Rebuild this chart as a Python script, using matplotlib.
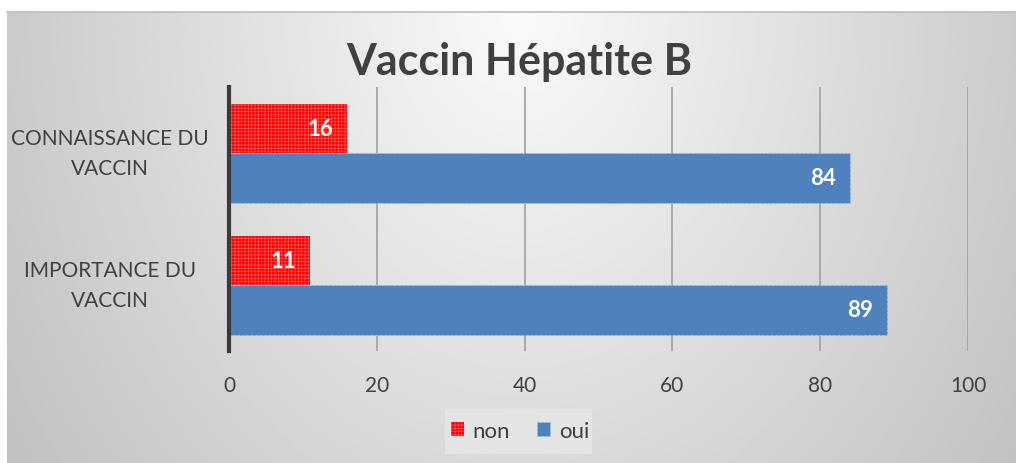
import matplotlib
matplotlib.use("Agg")
import matplotlib.pyplot as plt
import numpy as np
from matplotlib.patches import Rectangle

categories = ["CONNAISSANCE DU\nVACCIN", "IMPORTANCE DU\nVACCIN"]
non_values = [16, 11]
oui_values = [84, 89]
series_names = ["non", "oui"]
title = "Vaccin Hépatite B"

plt.rcParams['font.family'] = ['Lato', 'DejaVu Sans']
plt.rcParams['hatch.linewidth'] = 0.5

W, H = 1016, 464
fig = plt.figure(figsize=(W / 100, H / 100), dpi=100)
fig.patch.set_facecolor("white")

# gradient background of the chart area
bg = fig.add_axes([7 / W, 0, 1 - 7 / W, (H - 13) / H], zorder=-2)
xs = np.linspace(7, W, 400)
ys = np.linspace(13, H, 200)
gx, gy = np.meshgrid(xs, ys)
d = np.sqrt(((gx - 520) / 560) ** 2 + ((gy - 13) / 720) ** 2)
shade = np.clip(250 - 52 * d, 192, 255) / 255
bg.imshow(shade, cmap="gray", vmin=0, vmax=1, aspect="auto",
          extent=[0, 1, 0, 1], interpolation="bilinear")
bg.set_xlim(0, 1)
bg.set_ylim(0, 1)
bg.axis("off")
fig.add_artist(plt.Line2D([7 / W, 1], [(H - 13) / H, (H - 13) / H],
                          color="#bdbdbd", lw=1.2))

ax = fig.add_axes([229 / W, (H - 352) / H, (968 - 229) / W, (352 - 88) / H])
ax.patch.set_alpha(0)

y = np.arange(len(categories))
h = 0.375
red = ax.barh(y - h / 2, non_values, height=h, color="#ff0000",
              edgecolor="#ff5a5a", hatch="+++++", lw=0, zorder=3)
blue = ax.barh(y + h / 2, oui_values, height=h, color="#4f81bd",
               edgecolor="#a9c0dd", lw=0.8, linestyle=(0, (2, 2)), zorder=3)

for bars, vals in ((red, non_values), (blue, oui_values)):
    for b, v in zip(bars, vals):
        ax.text(b.get_width() - 1.9, b.get_y() + b.get_height() / 2, str(v),
                ha="right", va="center", color="white", fontsize=16,
                fontweight="bold", zorder=4)

ax.set_xlim(0, 100)
ax.set_ylim(1.5, -0.5)
ax.set_xticks(range(0, 101, 20))
ax.set_yticks([])
ax.tick_params(axis="x", length=0, colors="#404040", labelsize=15, pad=17)
for yi, cat in zip(y, categories):
    ax.text(-0.161, yi, cat, transform=ax.get_yaxis_transform(),
            ha="center", va="center", fontsize=15, color="#404040",
            linespacing=1.6)
ax.grid(axis="x", color="#a0a0a0", lw=1.2, zorder=0)
for s in ("top", "right", "bottom"):
    ax.spines[s].set_visible(False)
ax.spines["left"].set_color("#3a3a3a")
ax.spines["left"].set_linewidth(3)
ax.spines["left"].set_zorder(5)

fig.text(0.511, (H - 62) / H, title, ha="center", va="center",
         fontsize=31, fontweight="bold", color="#404040")

# legend
lbox = Rectangle((445 / W, (H - 455) / H), 147 / W, 45 / H,
                 transform=fig.transFigure, facecolor="#e4e4e4",
                 edgecolor="none", zorder=1)
fig.add_artist(lbox)
leg = fig.legend([red, blue], series_names, loc="center",
                 bbox_to_anchor=(520 / W, (H - 432) / H), ncol=2,
                 frameon=False, fontsize=16, handlelength=0.6,
                 handleheight=0.6, handletextpad=0.4, columnspacing=1.2)
for t in leg.get_texts():
    t.set_color("#404040")

fig.savefig("out.png", dpi=100)
